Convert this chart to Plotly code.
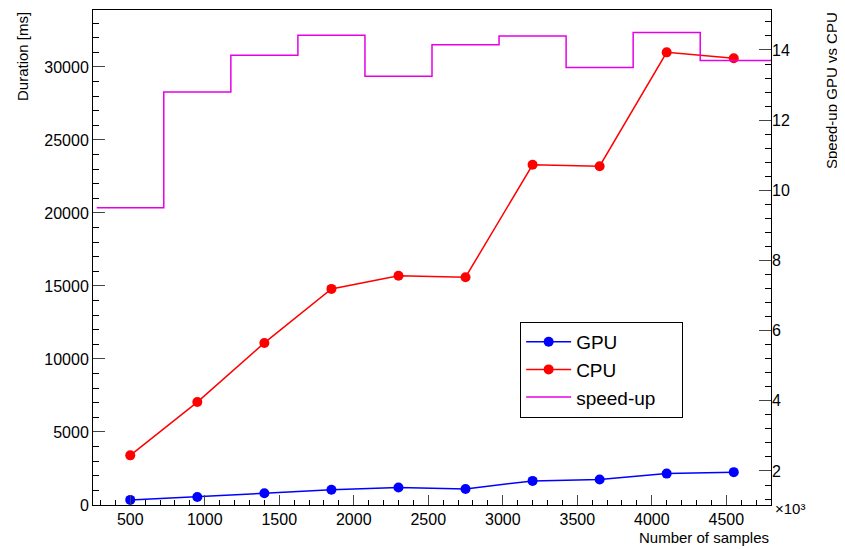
import plotly.graph_objects as go

samples = [500, 950, 1400, 1850, 2300, 2750, 3200, 3650, 4100, 4550]
gpu_ms = [350, 550, 800, 1050, 1200, 1100, 1650, 1750, 2150, 2250]
cpu_ms = [3400, 7050, 11100, 14800, 15700, 15600, 23300, 23200, 31000, 30600]
bin_edges = [275, 725, 1175, 1625, 2075, 2525, 2975, 3425, 3875, 4325, 4775]
speedup = [9.5, 12.8, 13.85, 14.42, 13.25, 14.15, 14.4, 13.5, 14.5, 13.7]

font = dict(family="Liberation Sans, Arial", size=16, color="black")

fig = go.Figure()
fig.add_trace(go.Scatter(x=samples, y=gpu_ms, name="GPU", mode="lines+markers",
                         line=dict(color="#0000ff", width=1.5),
                         marker=dict(color="#0000ff", size=10)))
fig.add_trace(go.Scatter(x=samples, y=cpu_ms, name="CPU", mode="lines+markers",
                         line=dict(color="#ff0000", width=1.5),
                         marker=dict(color="#ff0000", size=10)))
fig.add_trace(go.Scatter(x=bin_edges + [4900], y=speedup + [speedup[-1], speedup[-1]],
                         name="speed-up&nbsp;&nbsp;&nbsp;&nbsp;", mode="lines", yaxis="y2",
                         line=dict(color="#e600e6", width=1.5, shape="hv")))

# page body has an ~8px margin, so the figure is a bit smaller than the window
fig.update_layout(
    width=837, height=541, margin=dict(l=85, r=74, t=2, b=44),
    paper_bgcolor="white", plot_bgcolor="white", font=font,
    showlegend=True,
    legend=dict(x=0.63, y=0.37, xanchor="left", yanchor="top", itemwidth=45,
                bordercolor="black", borderwidth=1, bgcolor="white",
                font=dict(size=19), traceorder="normal"),
    xaxis=dict(range=[250, 4800], tickvals=[500, 1000, 1500, 2000, 2500, 3000, 3500, 4000, 4500],
               ticktext=["500", "1000", "1500", "2000", "2500", "3000", "3500", "4000", "4500"],
               ticks="inside", ticklen=10, showgrid=False, showline=True, linecolor="black",
               mirror=True, zeroline=False, automargin=False,
               minor=dict(dtick=100, ticks="inside", ticklen=5, tickcolor="black")),
    yaxis=dict(range=[0, 33900], dtick=5000, tickformat="d", ticks="inside", ticklen=12,
               showgrid=False, showline=True, linecolor="black", mirror=True, zeroline=False,
               automargin=False,
               minor=dict(dtick=1000, ticks="inside", ticklen=6, tickcolor="black")),
    yaxis2=dict(range=[1.03, 15.14], dtick=2, overlaying="y", side="right",
                ticks="inside", ticklen=12, showgrid=False, zeroline=False, automargin=False,
                minor=dict(dtick=0.4, ticks="inside", ticklen=6, tickcolor="black")),
)
fig.add_annotation(text="Number of samples", x=1, y=0, xref="paper", yref="paper",
                   xanchor="right", yanchor="top", yshift=-22, showarrow=False, font=dict(size=15))
fig.add_annotation(text="×10³", x=1, y=0, xref="paper", yref="paper",
                   xanchor="left", yanchor="middle", xshift=2, yshift=-3, showarrow=False,
                   font=dict(size=15))
fig.add_annotation(text="Duration [ms]", x=0, y=1, xref="paper", yref="paper", textangle=-90,
                   xanchor="right", yanchor="top", xshift=-60, showarrow=False, font=dict(size=15))
fig.add_annotation(text="Speed-up GPU vs CPU", x=1, y=1, xref="paper", yref="paper", textangle=-90,
                   xanchor="left", yanchor="top", xshift=50, showarrow=False, font=dict(size=15))

fig.write_html("out.html")
